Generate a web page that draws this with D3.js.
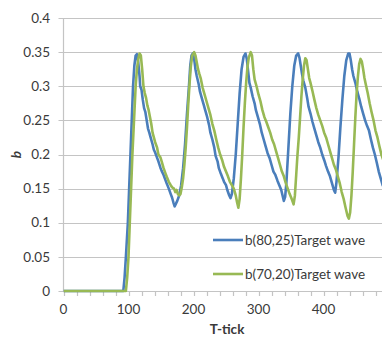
<!DOCTYPE html>
<html>
<head>
<meta charset="utf-8">
<script src="https://cdn.jsdelivr.net/npm/d3@7"></script>
<style>
  html, body { margin: 0; padding: 0; background: #fff; }
  svg { display: block; font-family: Lato, "Open Sans", sans-serif; }
</style>
</head>
<body>
<svg id="chart" width="382" height="343"></svg>
<script>
// Y-axis tick labels and x-axis ticks
const yTicks = [0, 0.05, 0.1, 0.15, 0.2, 0.25, 0.3, 0.35, 0.4];
const xTickLabels = [0, 100, 200, 300, 400];
const xMinorTicks = d3.range(0, 501, 20);

// Series names
const seriesNames = ["b(80,25)Target wave", "b(70,20)Target wave"];

// b(80,25) target wave: [T-tick, b]
const waveA = [
  [0,0],[92,0],[94,0.02],[96,0.05],[99,0.1],[101,0.15],[103,0.2],[105,0.25],[107,0.3],[109,0.33],
  [111,0.345],[113,0.347],[115,0.335],[117,0.315],[118,0.3],[120,0.295],[122,0.28],[124,0.268],[126,0.262],
  [128,0.25],[130,0.238],[132,0.232],[134,0.225],[137,0.215],[139,0.207],[141,0.203],[144,0.195],[146,0.19],
  [149,0.181],[151,0.176],[154,0.17],[157,0.162],[159,0.157],[162,0.15],[165,0.142],[167,0.137],[169,0.13],
  [171,0.124],[173,0.128],[175,0.132],[178,0.14],[181,0.155],[184,0.18],[187,0.215],[190,0.26],[193,0.3],
  [195,0.33],[197,0.345],[199,0.348],[201,0.34],[203,0.325],[205,0.315],[208,0.303],[210,0.292],[213,0.282],
  [216,0.272],[218,0.265],[221,0.255],[224,0.243],[226,0.232],[229,0.222],[232,0.21],[234,0.198],[237,0.19],
  [239,0.18],[242,0.172],[245,0.165],[247,0.16],[250,0.155],[252,0.148],[255,0.14],[257,0.136],[259,0.142],
  [262,0.165],[265,0.2],[268,0.245],[271,0.29],[274,0.325],[277,0.343],[280,0.348],[282,0.34],[284,0.322],
  [286,0.305],[288,0.298],[291,0.285],[294,0.275],[296,0.265],[299,0.255],[302,0.245],[305,0.232],[308,0.222],
  [311,0.212],[314,0.202],[317,0.195],[320,0.185],[323,0.175],[326,0.17],[329,0.162],[332,0.155],[335,0.148],
  [337,0.14],[339,0.132],[341,0.138],[343,0.16],[346,0.21],[349,0.26],[352,0.3],[355,0.33],[358,0.345],
  [361,0.348],[363,0.342],[365,0.33],[367,0.318],[369,0.308],[372,0.298],[375,0.282],[377,0.27],[380,0.26],
  [383,0.248],[386,0.238],[389,0.228],[392,0.218],[395,0.21],[398,0.2],[401,0.192],[404,0.183],[407,0.175],
  [410,0.168],[413,0.158],[416,0.148],[418,0.144],[420,0.16],[423,0.195],[426,0.24],[429,0.28],[432,0.315],
  [435,0.338],[438,0.348],[440,0.348],[442,0.338],[444,0.325],[446,0.315],[449,0.305],[452,0.292],[455,0.282],
  [458,0.27],[461,0.26],[464,0.25],[467,0.242],[470,0.235],[473,0.222],[476,0.21],[479,0.2],[482,0.188],
  [485,0.175],[488,0.165],[491,0.155],[494,0.15]
];

// b(70,20) target wave: [T-tick, b]
const waveB = [
  [0,0],[96,0],[98,0.02],[100,0.05],[102,0.1],[104,0.15],[106,0.2],[109,0.26],[111,0.3],[113,0.325],
  [115,0.34],[117,0.348],[119,0.345],[121,0.325],[123,0.3],[125,0.29],[127,0.283],[129,0.272],[131,0.265],
  [133,0.255],[135,0.245],[137,0.232],[139,0.225],[141,0.218],[144,0.21],[146,0.2],[149,0.196],[151,0.19],
  [154,0.18],[157,0.172],[159,0.167],[162,0.16],[165,0.155],[167,0.152],[170,0.15],[172,0.145],[174,0.148],
  [176,0.142],[178,0.14],[180,0.142],[182,0.152],[184,0.165],[186,0.185],[188,0.21],[190,0.24],[192,0.275],
  [194,0.305],[196,0.33],[198,0.345],[201,0.35],[203,0.345],[205,0.335],[207,0.325],[209,0.318],[211,0.312],
  [214,0.298],[217,0.288],[220,0.278],[223,0.268],[226,0.258],[229,0.245],[232,0.235],[235,0.222],[238,0.21],
  [241,0.2],[244,0.192],[247,0.182],[250,0.175],[253,0.168],[256,0.16],[259,0.155],[262,0.15],[265,0.14],
  [267,0.13],[269,0.122],[271,0.135],[273,0.165],[275,0.2],[277,0.24],[279,0.275],[281,0.305],[283,0.328],
  [285,0.342],[288,0.35],[290,0.345],[292,0.325],[294,0.31],[297,0.3],[300,0.288],[303,0.278],[306,0.265],
  [309,0.255],[312,0.248],[315,0.24],[318,0.232],[321,0.222],[324,0.215],[327,0.205],[330,0.195],[333,0.185],
  [336,0.175],[339,0.168],[342,0.158],[345,0.15],[348,0.142],[351,0.135],[354,0.127],[356,0.14],[358,0.17],
  [360,0.2],[362,0.225],[364,0.255],[366,0.285],[368,0.31],[370,0.33],[372,0.341],[374,0.338],[376,0.325],
  [378,0.312],[380,0.305],[383,0.293],[386,0.28],[389,0.268],[392,0.258],[395,0.25],[398,0.242],[401,0.232],
  [404,0.225],[407,0.215],[410,0.205],[413,0.195],[416,0.185],[419,0.178],[422,0.168],[425,0.158],[428,0.145],
  [431,0.135],[434,0.122],[437,0.11],[439,0.106],[441,0.115],[443,0.14],[445,0.175],[447,0.215],[449,0.255],
  [451,0.29],[453,0.315],[455,0.333],[457,0.34],[459,0.336],[461,0.325],[463,0.312],[465,0.303],[468,0.29],
  [471,0.275],[474,0.262],[477,0.25],[480,0.235],[483,0.225],[486,0.212],[489,0.2],[492,0.192],[495,0.185]
];

const colors = ["#4a7ebb", "#98b954"];
const gridColor = "#c4c4c4";
const textColor = "#3a3a3a";
const fontSize = 13.5;

const svg = d3.select("#chart");
const W = 382;
const plot = { left: 63.5, top: 18, bottom: 291 };

const x = d3.scaleLinear().domain([0, 500]).range([plot.left, plot.left + 325]);
const y = d3.scaleLinear().domain([0, 0.4]).range([plot.bottom, plot.top]);

// Horizontal gridlines with short ticks left of the axis
const grid = svg.append("g");
grid.selectAll("line").data(yTicks).join("line")
  .attr("x1", plot.left - 5).attr("x2", W)
  .attr("y1", d => Math.round(y(d)) + 0.5).attr("y2", d => Math.round(y(d)) + 0.5)
  .attr("stroke", gridColor).attr("stroke-width", 1.2);

// Y-axis line
svg.append("line")
  .attr("x1", plot.left).attr("x2", plot.left)
  .attr("y1", y(0.4)).attr("y2", plot.bottom)
  .attr("stroke", gridColor).attr("stroke-width", 1.2);

// Y tick labels
svg.append("g").selectAll("text").data(yTicks).join("text")
  .attr("x", 50).attr("y", d => y(d) + 4.7)
  .attr("text-anchor", "end")
  .attr("font-size", fontSize).attr("fill", textColor)
  .text(d => d === 0 ? "0" : String(d));

// X-axis minor ticks below the axis
svg.append("g").selectAll("line").data(xMinorTicks).join("line")
  .attr("x1", d => Math.round(x(d)) + 0.5).attr("x2", d => Math.round(x(d)) + 0.5)
  .attr("y1", plot.bottom).attr("y2", plot.bottom + 5)
  .attr("stroke", gridColor).attr("stroke-width", 1.2);

// X tick labels
svg.append("g").selectAll("text").data(xTickLabels).join("text")
  .attr("x", d => x(d)).attr("y", plot.bottom + 23)
  .attr("text-anchor", "middle")
  .attr("font-size", fontSize).attr("fill", textColor)
  .text(d => d);

// Axis titles
svg.append("text")
  .attr("x", 227).attr("y", 334)
  .attr("text-anchor", "middle")
  .attr("font-size", fontSize).attr("font-weight", "bold").attr("fill", textColor)
  .text("T-tick");

svg.append("text")
  .attr("transform", `translate(21,${y(0.2)}) rotate(-90)`)
  .attr("text-anchor", "middle")
  .attr("font-size", fontSize).attr("font-weight", "bold").attr("font-style", "italic").attr("fill", textColor)
  .text("b");

// Wave lines
const line = d3.line().x(d => x(d[0])).y(d => y(d[1])).curve(d3.curveLinear);
svg.append("defs").append("clipPath").attr("id", "plotClip")
  .append("rect").attr("x", plot.left).attr("y", 0).attr("width", W - plot.left).attr("height", plot.bottom + 2);

const lines = svg.append("g").attr("clip-path", "url(#plotClip)");
[waveA, waveB].forEach((series, i) => {
  lines.append("path")
    .datum(series)
    .attr("d", line)
    .attr("fill", "none")
    .attr("stroke", colors[i])
    .attr("stroke-width", 2.6)
    .attr("stroke-linejoin", "round");
});

// Legend
const legendY = [240, 274];
const legend = svg.append("g");
seriesNames.forEach((name, i) => {
  legend.append("line")
    .attr("x1", 213).attr("x2", 243)
    .attr("y1", legendY[i]).attr("y2", legendY[i])
    .attr("stroke", colors[i]).attr("stroke-width", 2.6);
  legend.append("text")
    .attr("x", 245).attr("y", legendY[i] + 4.7)
    .attr("font-size", fontSize).attr("fill", textColor)
    .text(name);
});
</script>
</body>
</html>
